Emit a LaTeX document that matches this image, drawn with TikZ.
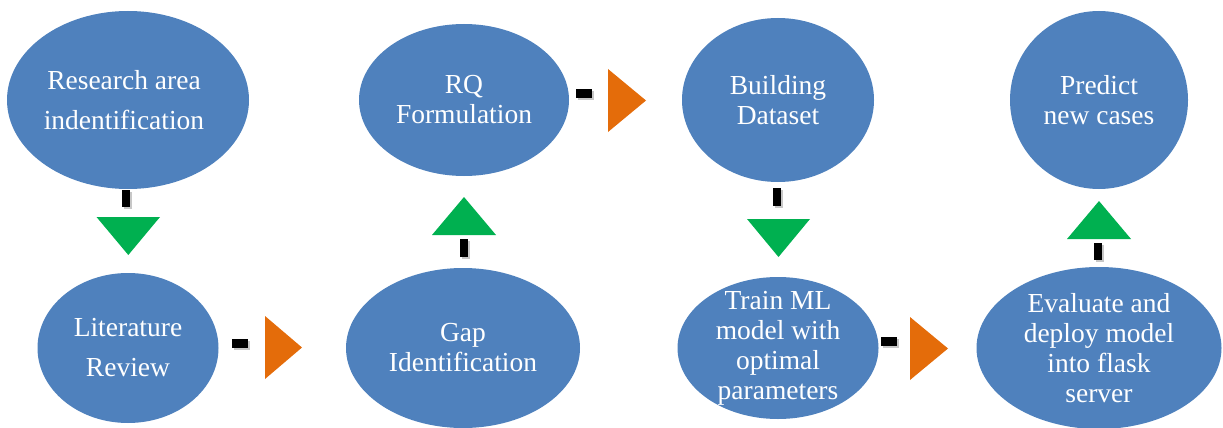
\documentclass[tikz,border=0pt]{standalone}
\usepackage{fontspec}
\setmainfont{Liberation Serif}
\usetikzlibrary{shapes.geometric}
\definecolor{stepblue}{HTML}{4F81BD}
\definecolor{flowgreen}{HTML}{00B050}
\definecolor{floworange}{HTML}{E46C0A}
\tikzset{
  stage/.style={ellipse, fill=stepblue, draw=none, inner sep=0pt},
  stagetext/.style={text=white, align=center, inner sep=0pt,
    font=\fontsize{27.5}{30}\selectfont},
  widetext/.style={stagetext, font=\fontsize{27.5}{40}\selectfont},
  barshadow/.style={fill=black, opacity=0.22},
  bar/.style={fill=black},
  vtri/.style={fill=flowgreen},
  htri/.style={fill=floworange}
}
\begin{document}
\begin{tikzpicture}[x=1pt,y=-1pt]
\useasboundingbox (0,0) rectangle (1223,428);

% stages
\node[stage, minimum width=242pt, minimum height=178pt] (research) at (128,100) {};
\node[stage, minimum width=181pt, minimum height=150pt] (review)   at (128,348) {};
\node[stage, minimum width=210pt, minimum height=152pt] (rq)       at (464,100) {};
\node[stage, minimum width=234pt, minimum height=160pt] (gap)      at (463,348) {};
\node[stage, minimum width=192pt, minimum height=164pt] (dataset)  at (778,100) {};
\node[stage, minimum width=201pt, minimum height=142pt] (train)    at (778,348) {};
\node[stage, minimum width=178pt, minimum height=178pt] (predict)  at (1099,100) {};
\node[stage, minimum width=245pt, minimum height=162pt] (evaluate) at (1099,348) {};

% stage labels
\node[widetext] at ([xshift=-4pt]research.center) {Research area\\indentification};
\node[widetext] at (review.center)   {Literature\\Review};
\node[stagetext] at (rq.center)       {RQ\\Formulation};
\node[stagetext] at (gap.center)      {Gap\\Identification};
\node[stagetext] at (dataset.center)  {Building\\Dataset};
\node[stagetext] at (train.center)    {Train ML\\model with\\optimal\\parameters};
\node[stagetext] at (predict.center)  {Predict\\new cases};
\node[stagetext] at (evaluate.center) {Evaluate and\\deploy model\\into flask\\server};

% research -> review (downward)
\fill[barshadow] (124,192) rectangle (132,209);
\fill[bar] (122,190) rectangle (130,207);
\fill[vtri] (96.5,217) -- (160,217) -- (128.3,255) -- cycle;

% review -> gap (rightward)
\fill[barshadow] (234,341) rectangle (250,350);
\fill[bar] (232,339) rectangle (248,348);
\fill[htri] (265,316) -- (302,347.5) -- (265,379) -- cycle;

% gap -> rq (upward)
\fill[barshadow] (462,241) rectangle (470,259);
\fill[bar] (460,239) rectangle (468,257);
\fill[vtri] (432,235) -- (496,235) -- (464,197) -- cycle;

% rq -> dataset (rightward)
\fill[barshadow] (578,91) rectangle (594,100);
\fill[bar] (576,89) rectangle (592,98);
\fill[htri] (608,69) -- (646,100.5) -- (608,132) -- cycle;

% dataset -> train (downward)
\fill[barshadow] (775,190) rectangle (783,208);
\fill[bar] (773,188) rectangle (781,206);
\fill[vtri] (747,219) -- (810,219) -- (778.5,257) -- cycle;

% train -> evaluate (rightward)
\fill[barshadow] (883,339) rectangle (899,348);
\fill[bar] (881,337) rectangle (897,346);
\fill[htri] (910,317) -- (948,348.5) -- (910,380) -- cycle;

% evaluate -> predict (upward)
\fill[barshadow] (1096,245) rectangle (1104,262);
\fill[bar] (1094,243) rectangle (1102,260);
\fill[vtri] (1067,239) -- (1131,239) -- (1099,201) -- cycle;
\end{tikzpicture}
\end{document}
